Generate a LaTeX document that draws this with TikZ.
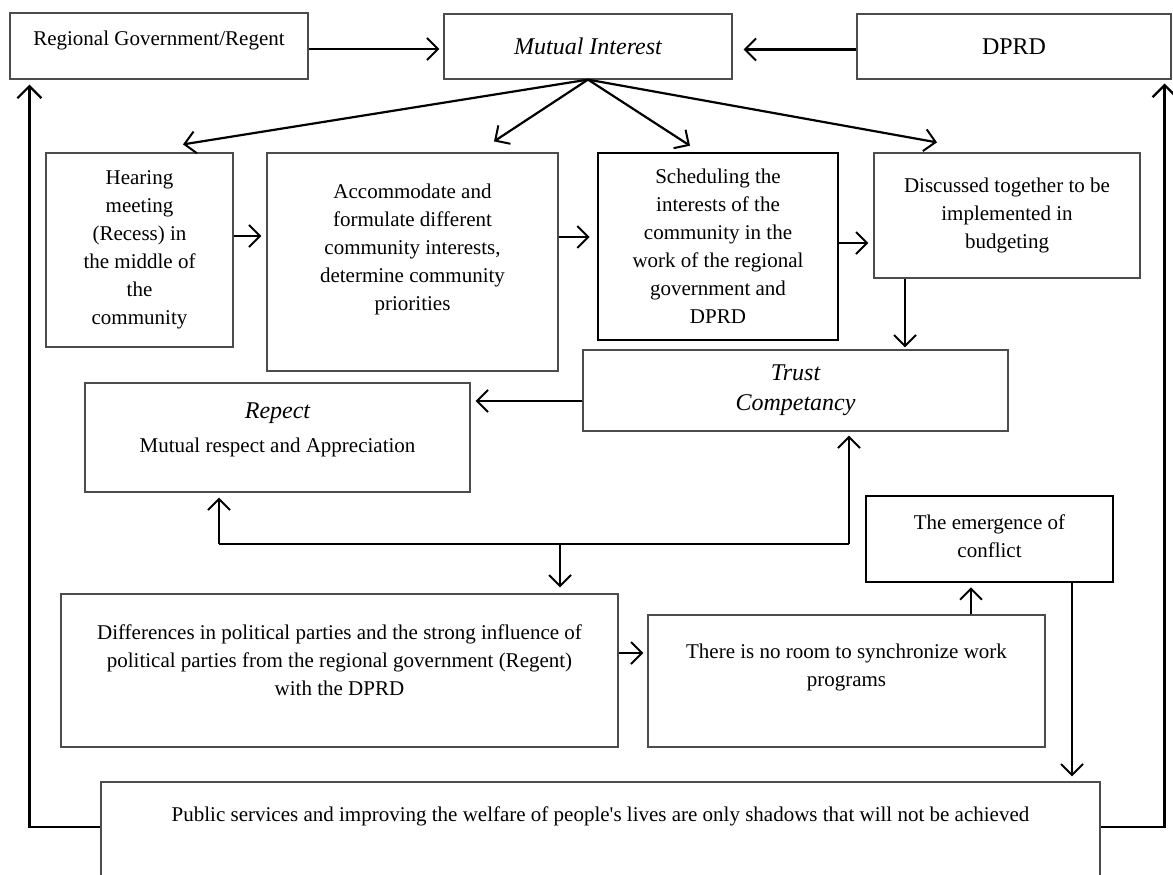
\documentclass[tikz,border=0pt]{standalone}
\usepackage{fontspec}
\setmainfont{Liberation Serif}
\usetikzlibrary{positioning,arrows.meta,calc}

\newcommand{\bodyfont}{\fontsize{10.5}{14}\selectfont}
\newcommand{\headfont}{\fontsize{12}{15}\selectfont}

\tikzset{
  box/.style={draw=black!70, line width=0.6pt, align=center, inner sep=0pt, font=\bodyfont},
  thickbox/.style={box, draw=black, line width=1.3pt},
  lift/.style={text depth=#1},
  arr/.style={-{Straight Barb[length=5.5pt,width=11pt,line width=1pt]}, line width=1.1pt},
  loopline/.style={-{Straight Barb[length=6pt,width=12pt,line width=1.1pt]}, line width=1.2pt}
}

\begin{document}
\begin{tikzpicture}[x=0.5pt, y=-0.5pt]
    \useasboundingbox (0,0) rectangle (1173,874);
    \clip (0,0) rectangle (1173,874);

    % Top row
    \node[box, minimum width=149pt, minimum height=33pt, lift=7.3pt] (rg) at (159,46) {Regional Government/Regent};
    \node[box, minimum width=144pt, minimum height=32.5pt, font=\headfont\itshape] (mi) at (588,46.5) {Mutual Interest};
    \node[box, minimum width=157pt, minimum height=32.5pt, font=\headfont] (dprd) at (1014,46.5) {DPRD};

    % Second row
    \node[box, minimum width=93.5pt, minimum height=97pt] (hear) at (139.5,250)
        {Hearing\\meeting\\(Recess) in\\the middle of\\the\\community};
    \node[box, minimum width=145.5pt, minimum height=109pt, lift=14.3pt] (acc) at (412.5,262)
        {Accommodate and\\formulate different\\community interests,\\determine community\\priorities};
    \node[thickbox, minimum width=120pt, minimum height=93.5pt] (sched) at (718,246.5)
        {Scheduling the\\interests of the\\community in the\\work of the regional\\government and\\DPRD};
    \node[box, minimum width=133pt, minimum height=62.5pt] (disc) at (1007,215.5)
        {Discussed together to be\\implemented in\\budgeting};

    % Middle
    \node[box, minimum width=212.5pt, minimum height=40.5pt, font=\headfont\itshape] (trust) at (795.5,390.5)
        {Trust\\Competancy};
    \node[box, minimum width=192.5pt, minimum height=54.5pt, lift=10.3pt] (rep) at (277.5,437.5)
        {{\headfont\itshape Repect}\\[3pt]Mutual respect and Appreciation};
    \node[thickbox, minimum width=123.5pt, minimum height=43pt, lift=3pt] (emer) at (989.5,539)
        {The emergence of\\conflict};

    % Lower row
    \node[box, minimum width=278.5pt, minimum height=76.5pt, lift=10pt] (diff) at (339.5,670.5)
        {Differences in political parties and the strong influence of\\political parties from the regional government (Regent)\\with the DPRD};
    \node[box, minimum width=198.5pt, minimum height=66pt, lift=15.3pt] (noroom) at (846.5,681)
        {There is no room to synchronize work\\programs};
    \node[box, minimum width=499.5pt, minimum height=49pt, lift=17.3pt] (pub) at (600.5,831)
        {Public services and improving the welfare of people\textquotesingle s lives are only shadows that will not be achieved};

    % Top connections
    \draw[arr, shorten >=2pt] ($(rg.east)+(0,3)$) coordinate (a1) -- (a1 -| mi.west);
    \draw[arr, shorten >=5.5pt] ($(dprd.west)+(0,3)$) coordinate (a2) -- (a2 -| mi.east);

    % Fan out from Mutual Interest
    \draw[arr] (mi.south) -- ($(hear.north)+(43.5,-8)$);
    \draw[arr] (mi.south) -- ($(acc.north)+(81.5,-11)$);
    \draw[arr] (mi.south) -- ($(sched.north)+(-28,-6)$);
    \draw[arr] (mi.south) -- ($(disc.north)+(-70,-10)$);

    % Chain
    \draw[arr, shorten >=2.5pt] ($(hear.east)+(0,-14)$) coordinate (a3) -- (a3 -| acc.west);
    \draw[arr, shorten >=3.5pt] ($(acc.east)+(0,-25)$) coordinate (a4) -- (a4 -| sched.west);
    \draw[arr, shorten >=2.5pt] ($(sched.east)+(0,-3.5)$) coordinate (a5) -- (a5 -| disc.west);
    \draw[arr, shorten >=1pt] ($(disc.south)+(-102,0)$) coordinate (a6) -- (a6 |- trust.north);
    \draw[arr, shorten >=2.5pt] ($(trust.west)+(0,10.5)$) coordinate (a7) -- (a7 -| rep.east);

    % Bus between Repect, Trust and Differences
    \coordinate (busL) at (219,544);
    \coordinate (busM) at (560,544);
    \coordinate (busR) at (849,544);
    \draw[line width=1pt] (busL) -- (busR);
    \draw[arr, shorten >=2.5pt] (busL) -- (busL |- rep.south);
    \draw[arr, shorten >=2pt] (busR) -- (busR |- trust.south);
    \draw[arr, shorten >=3pt] (busM) -- (busM |- diff.north);

    % Lower connections
    \draw[arr, shorten >=2pt] ($(diff.east)+(0,-17.5)$) coordinate (a8) -- (a8 -| noroom.west);
    \draw[arr, shorten >=2pt] ($(noroom.north)+(124.5,0)$) coordinate (a9) -- (a9 |- emer.south);
    \draw[arr, shorten >=2.5pt] ($(emer.south)+(82.5,0)$) coordinate (a10) -- (a10 |- pub.north);

    % Feedback loops
    \draw[loopline, shorten >=2.5pt] ($(pub.west)+(0,-4)$) -| ($(rg.south west)+(20,0)$);
    \draw[loopline, shorten >=2pt] ($(pub.east)+(0,-4)$) -| ($(dprd.south east)+(-7,0)$);
\end{tikzpicture}
\end{document}
